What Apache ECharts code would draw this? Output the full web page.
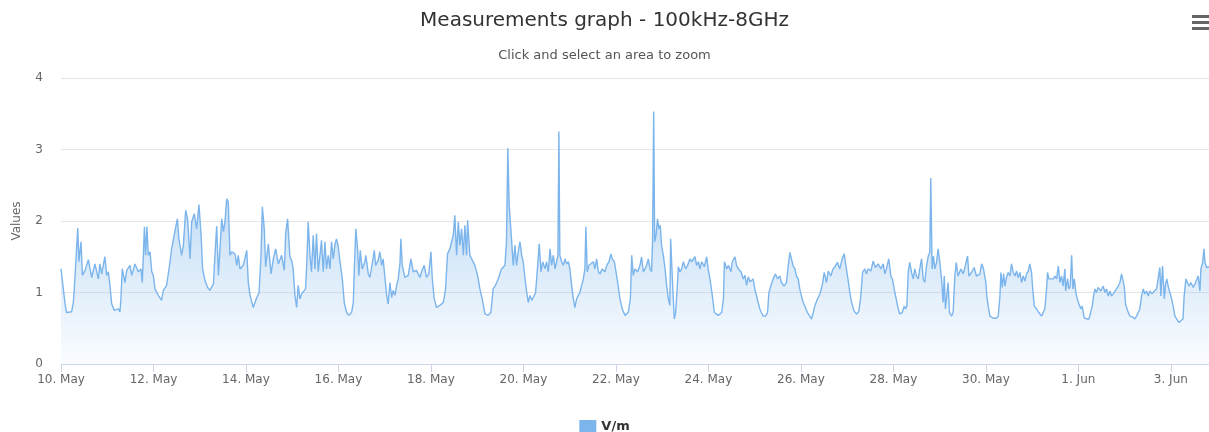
<!DOCTYPE html>
<html>
<head>
<meta charset="utf-8">
<title>Measurements graph</title>
<script src="https://cdn.jsdelivr.net/npm/echarts@6/dist/echarts.min.js"></script>
<style>
  html, body { margin: 0; padding: 0; background: #fff; }
  #chart { width: 1209px; height: 432px; }
</style>
</head>
<body>
<div id="chart"></div>
<script>
// hours after 10 May 00:00, field strength in V/m
const samples = [
  [0,1.33],[1.2,1.05],[2.1,0.84],[2.9,0.72],[5.5,0.73],[6.4,0.86],[6.9,1.05],[7.6,1.38],[8.7,1.90],[9.3,1.43],[10.4,1.71],[11.1,1.24],[12.5,1.31],[14.2,1.46],[15.9,1.21],[17.6,1.40],[19.4,1.19],[20.2,1.40],[21.1,1.26],[22.8,1.50],[23.7,1.24],
  [24.6,1.29],[25.4,1.10],[26.3,0.84],[27.7,0.75],[29.8,0.77],[30.6,0.73],[31.1,0.91],[31.8,1.33],[33.2,1.14],[34.1,1.31],[35.8,1.38],[36.7,1.24],[38.4,1.40],[40.1,1.29],[41.5,1.33],[42.2,1.14],[43.3,1.92],[43.9,1.52],[44.6,1.92],[45.3,1.52],[46.2,1.57],[47.1,1.29],[47.9,1.24],
  [48.8,1.05],[50.5,0.96],[52.2,0.89],[53.1,1.03],[54.8,1.10],[56.6,1.43],[57.4,1.61],[59.2,1.87],[60.4,2.03],[61.2,1.75],[62.6,1.52],[63.5,1.66],[64.7,2.15],[65.7,2.03],[67.0,1.47],[67.8,1.99],[69.2,2.10],[70.4,1.89],[71.6,2.23],
  [72.7,1.80],[73.5,1.33],[74.7,1.17],[76.1,1.07],[77.3,1.03],[79.1,1.12],[79.9,1.52],[80.8,1.93],[81.7,1.24],[82.5,1.61],[83.4,2.03],[84.3,1.85],[85.1,1.99],[86.0,2.31],[86.8,2.27],[87.7,1.52],[88.6,1.57],[90.3,1.54],[91.2,1.38],[92.0,1.52],[92.9,1.33],[94.6,1.38],
  [96.4,1.59],[97.2,1.14],[98.1,0.96],[99.8,0.79],[101.6,0.93],[102.8,1.00],[103.8,1.52],[104.5,2.20],[105.5,1.89],[106.2,1.36],[107.6,1.68],[109.0,1.26],[110.2,1.47],[111.4,1.61],[112.8,1.40],[114.5,1.52],[115.9,1.31],[116.6,1.82],[117.6,2.03],
  [118.8,1.50],[119.7,1.45],[120.5,1.33],[121.4,0.96],[122.3,0.79],[123.1,1.10],[124.0,0.91],[124.9,0.98],[125.7,0.96],[126.9,1.05],[127.6,1.43],[128.3,1.99],[129.2,1.52],[130.0,1.29],[130.9,1.80],[131.8,1.33],[132.6,1.82],[133.5,1.29],[134.4,1.52],[135.2,1.73],[136.1,1.29],[137.0,1.71],[137.8,1.33],[138.7,1.52],[139.6,1.33],[140.4,1.71],[141.3,1.47],[142.2,1.68],[143.0,1.75],[143.9,1.64],[144.7,1.45],
  [146.0,1.19],[147.0,0.86],[148.2,0.72],[149.4,0.68],[150.8,0.72],[151.7,0.86],[152.2,1.29],[153.0,1.89],[153.9,1.61],[154.6,1.24],[155.3,1.59],[156.3,1.33],[157.7,1.43],[158.2,1.52],[159.5,1.26],[160.3,1.21],[161.5,1.40],[162.6,1.59],[163.3,1.38],[164.6,1.45],[165.5,1.57],[166.4,1.38],[167.2,1.47],
  [168.1,1.21],[169.0,0.96],[169.8,0.84],[170.7,1.14],[171.6,0.93],[172.4,1.03],[173.3,0.96],[174.2,1.10],[175.0,1.19],[175.9,1.40],[176.4,1.75],[177.1,1.38],[178.5,1.21],[180.2,1.24],[181.6,1.47],[182.8,1.29],[184.5,1.31],[186.3,1.21],[187.1,1.29],[188.5,1.38],[189.7,1.21],[190.9,1.26],
  [192.0,1.57],[192.7,1.19],[193.7,0.91],[194.9,0.79],[196.6,0.82],[198.4,0.86],[199.6,1.05],[200.6,1.54],[201.8,1.61],[202.7,1.71],[203.6,1.80],[204.4,2.08],[205.3,1.52],[206.2,1.99],[207.0,1.66],[207.9,1.89],[208.8,1.52],[209.6,1.94],[210.5,1.52],[211.0,2.01],[212.2,1.52],[213.1,1.47],[214.8,1.38],
  [216.2,1.24],[217.4,1.05],[218.6,0.91],[220.0,0.70],[221.7,0.68],[223.1,0.72],[224.3,1.05],[225.5,1.10],[226.9,1.19],[228.6,1.33],[230.4,1.38],[231.2,1.71],[231.9,3.02],[232.6,2.22],[233.8,1.75],[234.7,1.38],[235.6,1.66],[236.4,1.38],[237.3,1.57],
  [238.2,1.71],[239.1,1.52],[239.9,1.43],[240.8,1.19],[241.7,1.00],[242.5,0.86],[243.4,0.96],[244.3,0.89],[245.1,0.93],[246.3,1.00],[247.4,1.38],[248.2,1.68],[249.1,1.29],[250.0,1.43],[251.2,1.33],[252.0,1.43],[252.9,1.29],[253.8,1.61],[254.6,1.38],[255.5,1.52],[256.4,1.33],[257.2,1.43],[257.9,1.52],[258.4,3.25],[258.9,1.52],[259.8,1.43],[260.7,1.38],[261.6,1.47],[262.4,1.40],[263.3,1.43],
  [264.1,1.33],[265.0,1.10],[265.9,0.91],[266.7,0.79],[267.6,0.91],[268.5,0.96],[269.3,1.00],[270.2,1.10],[271.1,1.19],[271.9,1.33],[272.4,1.92],[273.1,1.29],[274.0,1.38],[275.0,1.36],[276.3,1.43],[277.1,1.33],[278.0,1.47],[278.9,1.29],[279.7,1.26],[280.9,1.33],[282.3,1.29],[283.2,1.38],[284.4,1.43],[285.4,1.54],[286.1,1.47],[287.2,1.43],
  [287.8,1.33],[288.9,1.14],[290.1,0.91],[291.3,0.77],[292.7,0.68],[294.4,0.72],[295.5,0.91],[296.2,1.52],[297.0,1.24],[297.9,1.33],[299.3,1.29],[300.5,1.38],[301.3,1.50],[302.2,1.29],[303.1,1.33],[303.9,1.38],[304.8,1.47],[305.7,1.33],[306.5,1.29],[307.0,1.71],[307.6,3.53],[308.1,1.71],[308.8,1.80],[309.6,2.03],[310.3,1.89],[311.0,1.94],[311.7,1.66],
  [312.6,1.52],[313.5,1.33],[314.3,1.10],[315.2,0.91],[316.0,0.82],[316.4,1.75],[317.1,1.75],[317.6,1.00],[318.3,0.63],[319.0,0.72],[319.9,1.10],[320.4,1.36],[321.2,1.29],[322.1,1.33],[323.0,1.43],[324.2,1.33],[325.2,1.38],[326.4,1.47],[327.3,1.43],[329.0,1.50],[329.9,1.38],[330.8,1.43],[331.6,1.33],[332.5,1.43],[333.9,1.36],[335.1,1.50],
  [335.9,1.33],[336.8,1.19],[338.0,0.96],[339.1,0.72],[341.1,0.68],[342.9,0.72],[343.8,0.91],[344.3,1.43],[345.5,1.33],[346.4,1.38],[347.7,1.29],[348.4,1.43],[349.8,1.50],[350.6,1.38],[351.5,1.33],[352.9,1.29],[354.1,1.19],[355.0,1.24],[355.8,1.10],[356.7,1.22],[357.6,1.15],
  [358.4,1.14],[359.2,1.19],[360.1,1.05],[361.0,0.95],[361.8,0.86],[362.7,0.77],[363.5,0.72],[364.4,0.67],[365.6,0.67],[366.7,0.72],[367.4,1.00],[368.4,1.09],[369.6,1.19],[370.8,1.26],[371.9,1.19],[373.1,1.23],[373.9,1.14],[375.3,1.09],[376.5,1.14],[377.4,1.37],[378.3,1.56],[379.1,1.47],[380.0,1.37],[380.9,1.33],[381.7,1.23],[382.6,1.19],[383.4,1.05],
  [384.3,0.95],[385.2,0.86],[386.0,0.81],[387.4,0.72],[388.6,0.67],[389.5,0.63],[390.4,0.72],[391.2,0.81],[392.6,0.91],[393.8,0.98],[395.0,1.09],[396.1,1.28],[397.3,1.14],[398.2,1.30],[399.5,1.23],[400.7,1.33],[401.9,1.37],[403.0,1.42],[404.2,1.33],[405.4,1.47],[406.5,1.54],[407.1,1.42],[408.2,1.23],
  [409.4,1.00],[410.3,0.86],[411.6,0.74],[412.9,0.70],[414.1,0.74],[415.1,0.95],[416.0,1.28],[417.2,1.33],[418.0,1.26],[418.9,1.33],[420.3,1.30],[421.5,1.44],[422.7,1.35],[424.1,1.40],[425.5,1.33],[426.7,1.40],[427.6,1.26],[428.4,1.33],[429.6,1.47],[430.7,1.23],[431.5,1.19],
  [432.4,1.05],[433.3,0.93],[434.5,0.77],[435.3,0.70],[436.6,0.72],[437.6,0.81],[438.3,0.77],[439.0,0.81],[439.7,1.28],[440.5,1.42],[441.4,1.28],[442.3,1.19],[443.1,1.33],[444.0,1.23],[444.9,1.19],[445.7,1.33],[446.6,1.47],[447.5,1.19],[448.3,1.14],[449.2,1.37],[450.1,1.51],[450.9,1.56],[451.4,2.60],[452.1,1.33],[452.8,1.51],[453.5,1.33],[454.4,1.42],[455.2,1.61],[456.1,1.42],
  [457.0,1.19],[457.8,0.86],[458.4,1.23],[459.0,0.77],[459.7,0.95],[460.4,1.14],[461.1,0.72],[462.2,0.67],[463.0,0.72],[463.9,1.23],[464.6,1.42],[465.6,1.23],[467.0,1.33],[468.2,1.26],[469.1,1.35],[470.5,1.51],[471.2,1.23],[472.5,1.28],[473.9,1.35],[475.1,1.23],[476.9,1.26],
  [477.8,1.40],[478.6,1.35],[479.5,1.33],[480.0,1.14],[480.5,0.95],[481.2,0.81],[482.1,0.67],[483.8,0.64],[485.5,0.64],[486.4,0.67],[487.3,0.95],[487.8,1.28],[488.5,1.07],[489.2,1.26],[489.9,1.09],[490.7,1.21],[491.6,1.28],[492.5,1.23],[493.3,1.40],[494.2,1.28],[495.1,1.23],[495.9,1.30],[496.8,1.21],[497.7,1.28],[498.5,1.14],[499.4,1.23],[500.3,1.16],[501.1,1.26],[502.0,1.30],[502.8,1.40],[503.7,1.28],
  [504.2,1.09],[505.1,0.81],[506.3,0.77],[507.5,0.72],[508.9,0.67],[509.8,0.65],[510.6,0.77],[511.5,1.05],[512.0,1.28],[512.7,1.19],[513.7,1.21],[515.0,1.19],[515.8,1.23],[516.7,1.19],[517.6,1.37],[518.4,1.14],[519.3,1.23],[520.1,1.09],[521.0,1.33],[521.4,1.02],[522.4,1.19],[523.1,1.05],[523.8,1.09],[524.5,1.52],[525.2,1.05],[525.9,1.19],[526.6,1.02],[527.1,0.95],
  [528.0,0.86],[529.3,0.77],[530.0,0.81],[531.0,0.65],[532.3,0.63],[533.5,0.63],[534.5,0.65],[535.2,0.81],[535.9,0.95],[536.6,1.05],[537.4,1.00],[538.3,1.07],[539.7,1.02],[540.9,1.09],[541.8,1.00],[542.6,1.05],[543.5,0.95],[544.4,1.02],[545.2,0.95],[546.1,0.98],[547.0,1.02],[547.8,1.05],[548.7,1.09],[549.6,1.14],[550.4,1.26],[550.9,1.28],[551.8,1.09],
  [552.5,0.84],[553.5,0.75],[554.7,0.67],[556.0,0.66],[557.3,0.63],[558.2,0.67],[559.1,0.65],[559.9,0.77],[560.8,0.95],[561.7,1.05],[562.5,0.98],[563.4,1.02],[564.3,0.95],[565.1,1.02],[566.3,0.98],[567.4,1.02],[568.6,1.05],[569.5,1.07],[570.3,1.35],[570.8,0.95],[571.7,1.37],[572.6,0.91],[573.3,1.12],[573.9,1.19],[574.6,1.09],[575.5,1.00],
  [576.4,0.91],[577.2,0.81],[578.1,0.67],[579.0,0.63],[580.2,0.58],[581.2,0.56],[582.3,0.63],[582.9,0.95],[583.8,1.19],[584.7,1.19],[585.4,1.09],[586.4,1.14],[587.6,1.07],[588.5,1.12],[589.3,1.14],[590.2,1.23],[591.1,1.02],[591.6,1.33],[592.5,1.42],[593.2,1.61],[593.7,1.42],[594.5,1.35],[595.4,1.33],[595.8,1.36]
];

const xTicks = [0, 48, 96, 144, 192, 240, 288, 336, 384, 432, 480, 528, 576];
const monthNames = ['Jan', 'Feb', 'Mar', 'Apr', 'May', 'Jun', 'Jul', 'Aug', 'Sep', 'Oct', 'Nov', 'Dec'];
const startDay = Date.UTC(2019, 4, 10);

function dayLabel(h) {
  const d = new Date(startDay + h * 3600000);
  return d.getUTCDate() + '. ' + monthNames[d.getUTCMonth()];
}

const font = 'DejaVu Sans';
const chart = echarts.init(document.getElementById('chart'));

chart.setOption({
  animation: false,
  textStyle: { fontFamily: font },
  title: [
    {
      text: 'Measurements graph - 100kHz-8GHz',
      left: 'center',
      top: 6,
      textStyle: { fontFamily: font, fontSize: 20, fontWeight: 'normal', color: '#333333' }
    },
    {
      text: 'Click and select an area to zoom',
      left: 'center',
      top: 44,
      textStyle: { fontFamily: font, fontSize: 13, fontWeight: 'normal', color: '#555555' }
    }
  ],
  legend: {
    data: ['V/m'],
    left: 'center',
    top: 415,
    icon: 'rect',
    itemWidth: 17,
    itemHeight: 14,
    textStyle: { fontFamily: font, fontSize: 13, fontWeight: 'bold', color: '#333333' }
  },
  grid: { left: 61, right: 0, top: 78, bottom: 68 },
  xAxis: {
    type: 'value',
    min: 0,
    max: 595.8,
    interval: 48,
    axisLine: { lineStyle: { color: '#ccd6eb', width: 1 } },
    axisTick: { length: 8, lineStyle: { color: '#ccd6eb' }, customValues: xTicks },
    axisLabel: {
      color: '#666666',
      fontSize: 12,
      margin: 10,
      customValues: xTicks,
      formatter: dayLabel
    },
    splitLine: { show: false }
  },
  yAxis: {
    type: 'value',
    min: 0,
    max: 4,
    interval: 1,
    name: 'Values',
    nameLocation: 'middle',
    nameGap: 38,
    nameTextStyle: { color: '#666666', fontSize: 12 },
    axisLine: { show: false },
    axisTick: { show: false },
    axisLabel: { color: '#666666', fontSize: 12, margin: 18 },
    splitLine: { lineStyle: { color: '#e6e6e6', width: 1 } }
  },
  series: [{
    name: 'V/m',
    type: 'line',
    data: samples,
    showSymbol: false,
    symbol: 'none',
    color: '#7cb5ec',
    lineStyle: { color: '#7cb5ec', width: 1.4 },
    areaStyle: {
      color: new echarts.graphic.LinearGradient(0, 0, 0, 1, [
        { offset: 0, color: 'rgba(124,181,236,0.95)' },
        { offset: 1, color: 'rgba(124,181,236,0.05)' }
      ])
    }
  }],
  graphic: [
    { type: 'rect', left: 1192, top: 15, shape: { width: 18, height: 3 }, style: { fill: '#666666' } },
    { type: 'rect', left: 1192, top: 21, shape: { width: 18, height: 3 }, style: { fill: '#666666' } },
    { type: 'rect', left: 1192, top: 27, shape: { width: 18, height: 3 }, style: { fill: '#666666' } }
  ]
});

window.addEventListener('resize', chart.resize);
</script>
</body>
</html>
